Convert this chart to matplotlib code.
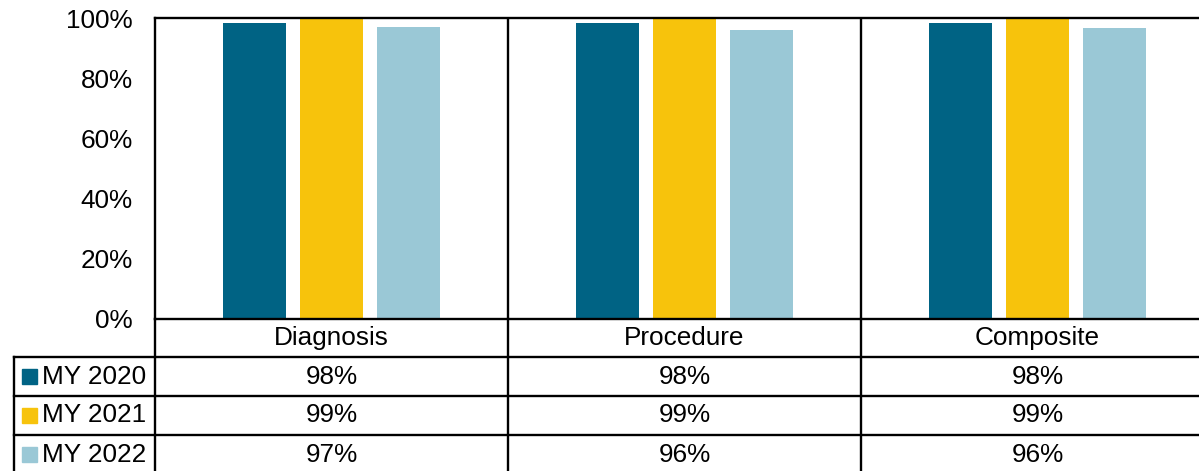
import matplotlib
matplotlib.use('Agg')
import matplotlib.pyplot as plt
from matplotlib.patches import Rectangle

plt.rcParams['font.family'] = ['Liberation Sans', 'DejaVu Sans']

# data
categories = ['Diagnosis', 'Procedure', 'Composite']
series = ['MY 2020', 'MY 2021', 'MY 2022']
colors = ['#006384', '#F7C30C', '#9AC8D6']
my2020 = [98.2, 98.2, 98.2]
my2021 = [99.6, 99.6, 99.6]
my2022 = [97.1, 95.9, 96.6]
table_labels = [
    ['98%', '98%', '98%'],
    ['99%', '99%', '99%'],
    ['97%', '96%', '96%'],
]
values = [my2020, my2021, my2022]

W, H = 1199, 471
left, col_w, top, base = 155, 353, 18, 319
row_edges = [319, 357, 396, 435, 474]
fs = 18.8

fig = plt.figure(figsize=(W / 100, H / 100), dpi=100)
ax = fig.add_axes([left / W, 1 - base / H, 3 * col_w / W, (base - top) / H])

step, bw = 0.218, 0.181
for j, (name, vals) in enumerate(zip(series, values)):
    xs = [i + (j - 1) * step for i in range(len(categories))]
    ax.bar(xs, vals, width=bw, color=colors[j], zorder=2)

ax.set_xlim(-0.5, 2.5)
ax.set_ylim(0, 100)
ax.set_xticks([])
ax.set_yticks(range(0, 101, 20))
ax.set_yticklabels([f'{v}%' for v in range(0, 101, 20)], fontsize=fs)
ax.tick_params(axis='y', length=0, pad=16)
for s in ax.spines.values():
    s.set_color('black')
    s.set_linewidth(1.7)
for x in [0.5, 1.5]:
    ax.axvline(x, color='black', lw=1.7)

# data table below the chart, drawn in pixel coordinates
ov = fig.add_axes([0, 0, 1, 1])
ov.set_xlim(0, W)
ov.set_ylim(H, 0)
ov.axis('off')

lk = dict(color='black', lw=1.7)
for y in row_edges[1:4]:
    ov.plot([14, W], [y, y], **lk)
ov.plot([14, 14], [row_edges[1], H], **lk)
for i in range(len(categories) + 1):
    x = left + i * col_w
    ov.plot([x, x], [base, H], **lk)

for i, cat in enumerate(categories):
    cx = left + (i + 0.5) * col_w
    ov.text(cx, (row_edges[0] + row_edges[1]) / 2, cat, fontsize=fs,
            ha='center', va='center')
    for j in range(len(series)):
        cy = (row_edges[j + 1] + row_edges[j + 2]) / 2
        ov.text(cx, cy, table_labels[j][i], fontsize=fs, ha='center', va='center')

for j, name in enumerate(series):
    cy = (row_edges[j + 1] + row_edges[j + 2]) / 2
    ov.add_patch(Rectangle((22, cy - 7.5), 15, 15, color=colors[j]))
    ov.text(42, cy, name, fontsize=fs, ha='left', va='center')

fig.savefig('out.png', dpi=100)
